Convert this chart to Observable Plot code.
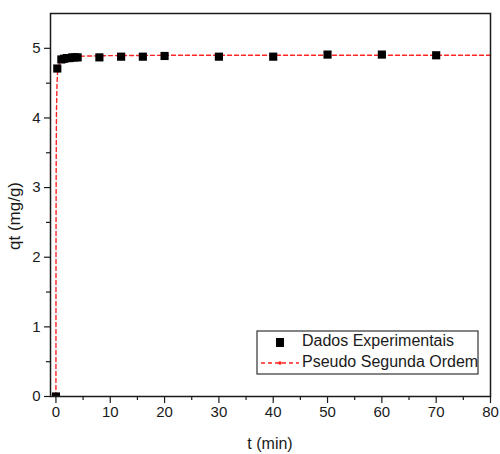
<!DOCTYPE html>
<html>
<head>
<meta charset="utf-8">
<script src="https://cdn.jsdelivr.net/npm/d3@7"></script>
<script src="https://cdn.jsdelivr.net/npm/@observablehq/plot@0.6"></script>
<style>
  html, body { margin: 0; padding: 0; background: #fff; }
  #chart { width: 500px; height: 454px; }
</style>
</head>
<body>
<div id="chart"></div>
<script>
// Experimental data (t in min, qt in mg/g)
const tExp = [0, 0.25, 1, 1.5, 2, 2.5, 3, 3.5, 4, 8, 12, 16, 20, 30, 40, 50, 60, 70];
const qExp = [0, 4.71, 4.84, 4.85, 4.86, 4.86, 4.87, 4.87, 4.87, 4.87, 4.88, 4.88, 4.89, 4.88, 4.88, 4.91, 4.91, 4.90];

// Pseudo second-order fitted curve
const tFit = [0, 0.01, 0.02, 0.05, 0.1, 0.2, 0.3, 0.5, 0.75, 1, 1.5, 2, 3, 4, 6, 10, 20, 40, 60, 80];
const qFit = [0, 1.6, 2.4, 3.4, 4.1, 4.5, 4.65, 4.75, 4.8, 4.83, 4.85, 4.87, 4.88, 4.885, 4.89, 4.895, 4.9, 4.9, 4.9, 4.9];

// Ticks
const xTicks = [0, 10, 20, 30, 40, 50, 60, 70, 80];
const xMinor = [5, 15, 25, 35, 45, 55, 65, 75];
const yTicks = [0, 1, 2, 3, 4, 5];
const yMinor = [0.5, 1.5, 2.5, 3.5, 4.5];

const xLabel = "t (min)";
const yLabel = "qt (mg/g)";
const seriesNames = ["Dados Experimentais", "Pseudo Segunda Ordem"];

const expData = tExp.map((t, i) => ({t, q: qExp[i]}));
const fitData = tFit.map((t, i) => ({t, q: qFit[i]}));

const ink = "#1a1a1a";
const font = "'Liberation Sans', Arial, sans-serif";

const plot = Plot.plot({
  width: 500,
  height: 454,
  marginLeft: 50,
  marginRight: 10,
  marginTop: 13,
  marginBottom: 58,
  style: {fontFamily: font, fontSize: "15px", color: ink, background: "#fff"},
  x: {domain: [-1, 80]},
  y: {domain: [0, 5.5]},
  marks: [
    Plot.line(fitData, {x: "t", y: "q", stroke: "#ff2222", strokeWidth: 1.4, strokeDasharray: "4,3"}),
    Plot.dot(expData, {x: "t", y: "q", symbol: "square", r: 4.6, fill: "black", stroke: "none", clip: true}),
    Plot.frame({stroke: ink, strokeWidth: 1.5}),
    Plot.axisX({ticks: xTicks, tickSize: 7, tickPadding: 3, tickFormat: d => String(d), label: null, stroke: ink, strokeWidth: 1.2}),
    Plot.axisX({ticks: xMinor, tickSize: 4, fill: "none", label: null, stroke: ink, strokeWidth: 1.2}),
    Plot.axisY({ticks: yTicks, tickSize: 6, tickPadding: 4, tickFormat: d => String(d), label: null, stroke: ink, strokeWidth: 1.2}),
    Plot.axisY({ticks: yMinor, tickSize: 4, fill: "none", label: null, stroke: ink, strokeWidth: 1.2})
  ]
});

document.getElementById("chart").appendChild(plot);

const svg = d3.select(plot);

// Axis titles
svg.append("text")
  .attr("x", 270).attr("y", 445)
  .attr("text-anchor", "middle").attr("dominant-baseline", "middle")
  .attr("font-size", 16).attr("fill", ink).attr("font-family", font)
  .text(xLabel);

svg.append("text")
  .attr("transform", "translate(16,216) rotate(-90)")
  .attr("text-anchor", "middle").attr("dominant-baseline", "middle")
  .attr("font-size", 17).attr("fill", ink).attr("font-family", font)
  .text(yLabel);

// Legend
const lg = svg.append("g").attr("font-family", font).attr("font-size", 16).attr("fill", ink).attr("text-anchor", "start");
lg.append("rect")
  .attr("x", 257).attr("y", 331).attr("width", 221).attr("height", 43)
  .attr("fill", "#fff").attr("stroke", "#333").attr("stroke-width", 1.2);
lg.append("rect")
  .attr("x", 276).attr("y", 338).attr("width", 8).attr("height", 9).attr("fill", "black");
lg.append("text")
  .attr("x", 302).attr("y", 342).attr("dominant-baseline", "middle").attr("text-anchor", "start")
  .text(seriesNames[0]);
lg.append("line")
  .attr("x1", 261).attr("x2", 299).attr("y1", 363).attr("y2", 363)
  .attr("stroke", "#ff2222").attr("stroke-width", 1.3).attr("stroke-dasharray", "4,3");
lg.append("circle")
  .attr("cx", 280).attr("cy", 363).attr("r", 1.8).attr("fill", "#ff2222");
lg.append("text")
  .attr("x", 302).attr("y", 363).attr("dominant-baseline", "middle").attr("text-anchor", "start")
  .text(seriesNames[1]);
</script>
</body>
</html>
